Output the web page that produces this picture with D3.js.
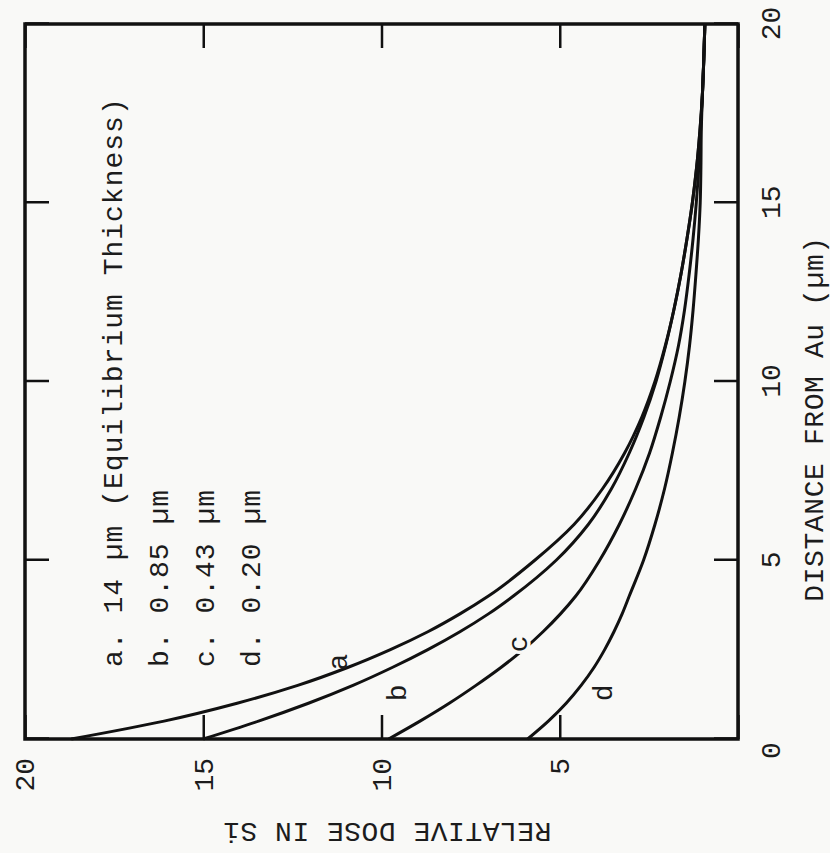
<!DOCTYPE html>
<html>
<head>
<meta charset="utf-8">
<script src="https://cdn.jsdelivr.net/npm/d3@7"></script>
<style>
  body { margin: 0; background: #f9f9f7; }
  text { font-family: "Liberation Mono", "DejaVu Sans Mono", monospace; fill: #1c1c1c; }
</style>
</head>
<body>
<div id="chart"></div>
<script>
// datos (distancia en um, dosis relativa)
var distance = [0, 0.5, 1, 1.5, 2, 2.5, 3, 3.5, 4, 5, 6, 7, 8, 9, 10, 11, 12, 13, 14, 15, 16, 17, 18, 19, 20];
var doseA = [18.7, 16.1, 14.05, 12.35, 10.95, 9.75, 8.7, 7.8, 7.0, 5.7, 4.6, 3.8, 3.18, 2.7, 2.33, 2.04, 1.8, 1.6, 1.43, 1.28, 1.16, 1.07, 1.0, 0.96, 0.93];
var doseB = [15.0, 13.45, 12.05, 10.8, 9.7, 8.7, 7.8, 7.0, 6.3, 5.1, 4.2, 3.55, 3.05, 2.64, 2.3, 2.03, 1.8, 1.6, 1.43, 1.28, 1.16, 1.07, 1.0, 0.96, 0.93];
var doseC = [9.8, 8.92, 8.1, 7.35, 6.65, 6.02, 5.47, 4.98, 4.55, 3.88, 3.33, 2.87, 2.48, 2.17, 1.9, 1.67, 1.5, 1.37, 1.26, 1.17, 1.1, 1.05, 1.0, 0.96, 0.93];
var doseD = [5.9, 5.32, 4.82, 4.4, 4.04, 3.74, 3.48, 3.25, 3.05, 2.65, 2.33, 2.06, 1.84, 1.65, 1.49, 1.36, 1.26, 1.18, 1.11, 1.06, 1.04, 1.03, 1.0, 0.96, 0.93];

var curveNames = ["a", "b", "c", "d"];
var legendLabels = ["a. 14 \u00b5m (Equilibrium Thickness)", "b. 0.85 \u00b5m", "c. 0.43 \u00b5m", "d. 0.20 \u00b5m"];
var distTicks = [0, 5, 10, 15, 20];
var doseTicks = [0, 5, 10, 15, 20];

// tamaño del area del grafico (antes de girarlo)
var width = 715,
    height = 713;

var svg = d3.select("#chart")
  .append("svg")
    .attr("width", 830)
    .attr("height", 853);

// la figura original esta girada 90 grados
var g = svg.append("g")
    .attr("transform", "translate(25,739) rotate(-90)");

var x = d3.scaleLinear().domain([0, 20]).range([0, width]);
var y = d3.scaleLinear().domain([0, 20]).range([height, 0]);

// ejes con ticks hacia dentro
var xAxis = g.append("g")
    .attr("transform", "translate(0," + height + ")")
    .call(d3.axisBottom(x).tickValues(distTicks).tickSize(-24).tickPadding(22));
// el 0 de la esquina se comparte, un poco desplazado
xAxis.selectAll(".tick text").filter(function(d) { return d === 0; }).attr("x", -12);

g.append("g")
    .call(d3.axisLeft(y).tickValues(doseTicks).tickSize(-24).tickPadding(19)
      .tickFormat(function(d) { return d === 0 ? "" : d; }));
g.append("g")
    .call(d3.axisTop(x).tickValues(distTicks).tickSize(-24).tickFormat(""));
g.append("g")
    .attr("transform", "translate(" + width + ",0)")
    .call(d3.axisRight(y).tickValues(doseTicks).tickSize(-24).tickFormat(""));

g.selectAll(".domain").remove();
g.selectAll(".tick line").attr("stroke", "#111").attr("stroke-width", 2.5);
g.selectAll(".tick text").style("font-size", "28px").attr("fill", "#1c1c1c");

// marco
g.append("rect")
    .attr("width", width)
    .attr("height", height)
    .attr("fill", "none")
    .attr("stroke", "#111")
    .attr("stroke-width", 3.5);

// curvas
var series = [doseA, doseB, doseC, doseD];
var line = d3.line()
    .x(function(d) { return x(d[0]); })
    .y(function(d) { return y(d[1]); })
    .curve(d3.curveMonotoneX);

g.selectAll(".curve")
  .data(series)
  .enter()
  .append("path")
    .attr("class", "curve")
    .attr("d", function(s) { return line(distance.map(function(t, i) { return [t, s[i]]; })); })
    .attr("fill", "none")
    .attr("stroke", "#111")
    .attr("stroke-width", 3);

// letras junto a las curvas
var labelAt = [[2.15, 11.25], [1.29, 9.6], [2.66, 6.2], [1.29, 3.8]];
g.selectAll(".clabel")
  .data(curveNames)
  .enter()
  .append("text")
    .attr("x", function(d, i) { return x(labelAt[i][0]); })
    .attr("y", function(d, i) { return y(labelAt[i][1]); })
    .attr("dy", "0.35em")
    .attr("text-anchor", "middle")
    .style("font-size", "28px")
    .style("paint-order", "stroke")
    .style("stroke", function(d) { return d == "c" ? "#f9f9f7" : "none"; })
    .style("stroke-width", 7)
    .text(function(d) { return d; });

// leyenda
g.selectAll(".legend")
  .data(legendLabels)
  .enter()
  .append("text")
    .attr("x", 72)
    .attr("y", function(d, i) { return 87 + i * 46; })
    .attr("dy", "0.35em")
    .style("font-size", "28px")
    .style("letter-spacing", "1px")
    .text(function(d) { return d; });

// titulos de los ejes
g.append("text")
    .attr("text-anchor", "middle")
    .attr("x", 320)
    .attr("y", height + 85)
    .style("font-size", "28px")
    .style("letter-spacing", "0.6px")
    .text("DISTANCE FROM Au (\u00b5m)");

g.append("text")
    .attr("text-anchor", "middle")
    .attr("transform", "rotate(-90)")
    .attr("x", -362)
    .attr("y", -84)
    .style("font-size", "28px")
    .style("letter-spacing", "0.5px")
    .text("RELATIVE DOSE IN Si");
</script>
</body>
</html>
